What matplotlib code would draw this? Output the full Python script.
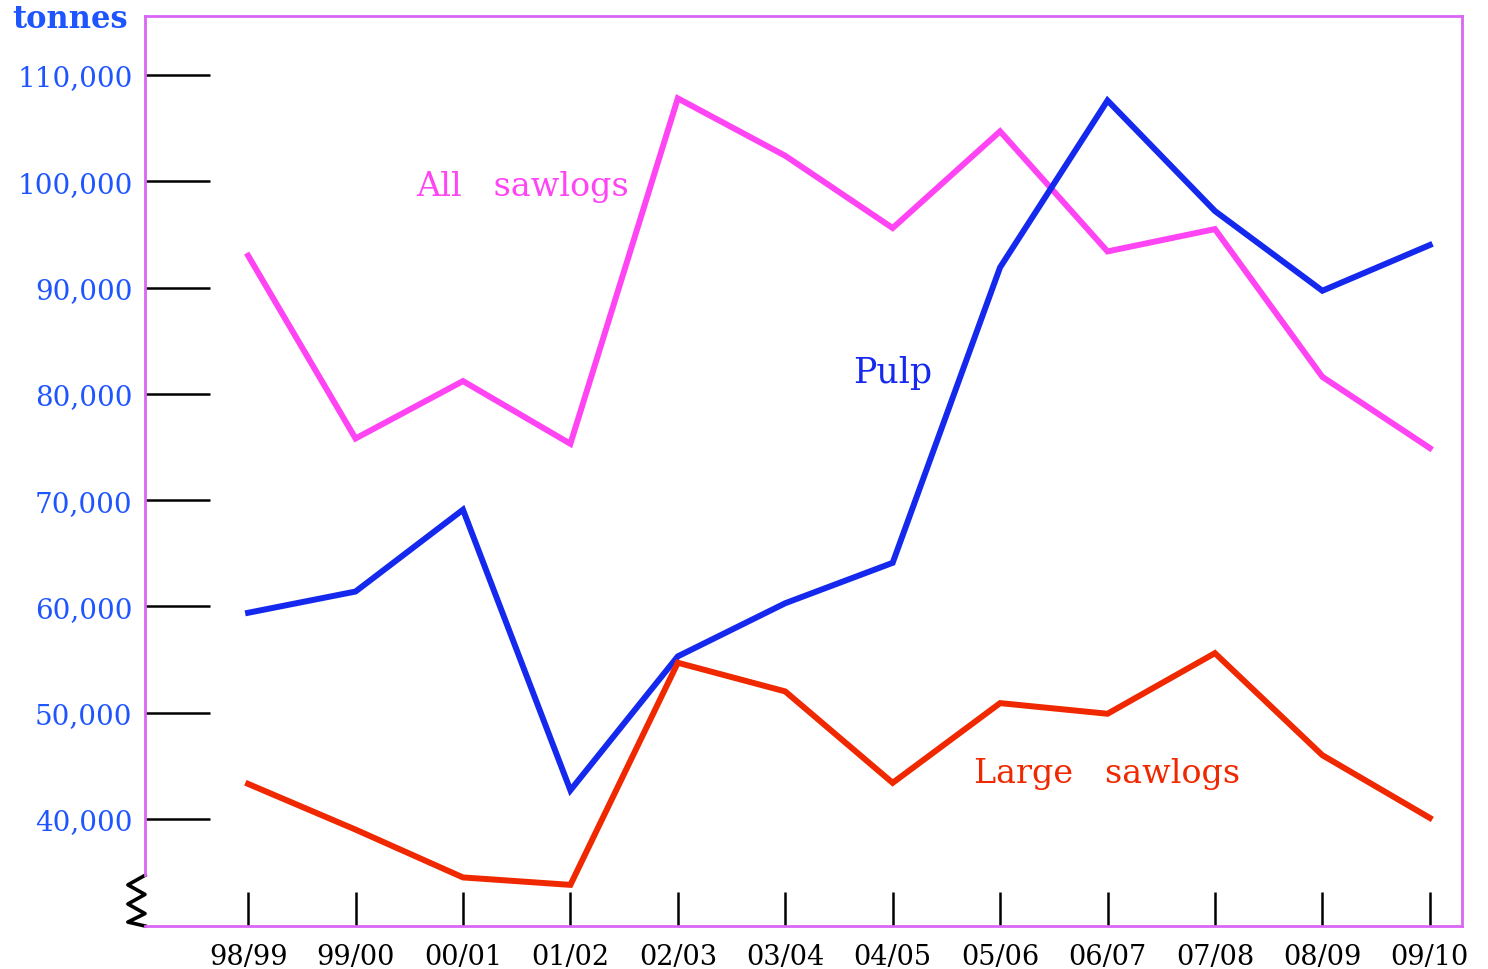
import matplotlib
matplotlib.use("Agg")
import matplotlib.pyplot as plt
import matplotlib.transforms as mtransforms

years = ["98/99", "99/00", "00/01", "01/02", "02/03", "03/04", "04/05",
         "05/06", "06/07", "07/08", "08/09", "09/10"]
all_sawlogs = [93000, 75800, 81200, 75300, 107800, 102400, 95600,
               104700, 93400, 95500, 81600, 74900]
pulp = [59400, 61400, 69100, 42700, 55300, 60300, 64100,
        91900, 107600, 97200, 89700, 94000]
large_sawlogs = [43300, 39000, 34500, 33800, 54700, 52000, 43400,
                 50900, 49900, 55600, 46000, 40100]
yticks = [40000, 50000, 60000, 70000, 80000, 90000, 100000, 110000]

C_ALL = "#ff44f4"
C_PULP = "#1428ee"
C_LARGE = "#f02800"
C_FRAME = "#d966f5"
C_YLAB = "#1f55ff"

plt.rcParams['font.family'] = ['DejaVu Serif']

fig = plt.figure(figsize=(14.88, 9.70), dpi=100)
ax = fig.add_axes([145/1488, 1-927/970, (1462-145)/1488, (927-17)/970])

x = list(range(len(years)))
ax.plot(x, all_sawlogs, color=C_ALL, lw=4.3, solid_joinstyle='miter')
ax.plot(x, pulp, color=C_PULP, lw=4.3, solid_joinstyle='miter')
ax.plot(x, large_sawlogs, color=C_LARGE, lw=4.3, solid_joinstyle='miter')

ax.set_xlim(-0.96, 11.3)
ax.set_ylim(29930, 115550)

for s in ax.spines.values():
    s.set_color(C_FRAME)
    s.set_linewidth(2)
ax.spines['left'].set_bounds(34700, 115550)

ax.set_yticks(yticks)
ax.set_yticklabels([f"{v:,}" for v in yticks])
ax.tick_params(axis='y', direction='in', length=47, width=1.8, color='black',
               labelcolor=C_YLAB, labelsize=20, pad=9)
ax.set_xticks(x)
ax.set_xticklabels(years)
ax.tick_params(axis='x', direction='in', length=24.5, width=1.8, color='black',
               labelcolor='black', labelsize=19.5, pad=12)

# zigzag break on the left axis
trans = mtransforms.blended_transform_factory(ax.transAxes, ax.transData)
zx = [0, -0.013, 0, -0.013, 0, -0.013, 0]
zy = [34700, 33800, 32900, 32000, 31100, 30300, 29930]
ax.plot(zx, zy, color='black', lw=2.6, transform=trans, clip_on=False)

ax.text(2.55, 99550, "All   sawlogs", color=C_ALL, fontsize=24, ha='center', va='center')
ax.text(6.0, 82050, "Pulp", color=C_PULP, fontsize=25, ha='center', va='center')
ax.text(8.0, 44330, "Large   sawlogs", color=C_LARGE, fontsize=24, ha='center', va='center')

fig.text(70/1488, 1-20/970, "tonnes", color=C_YLAB, fontsize=22, fontweight='bold',
         ha='center', va='center')

fig.savefig("out.png", dpi=100)
